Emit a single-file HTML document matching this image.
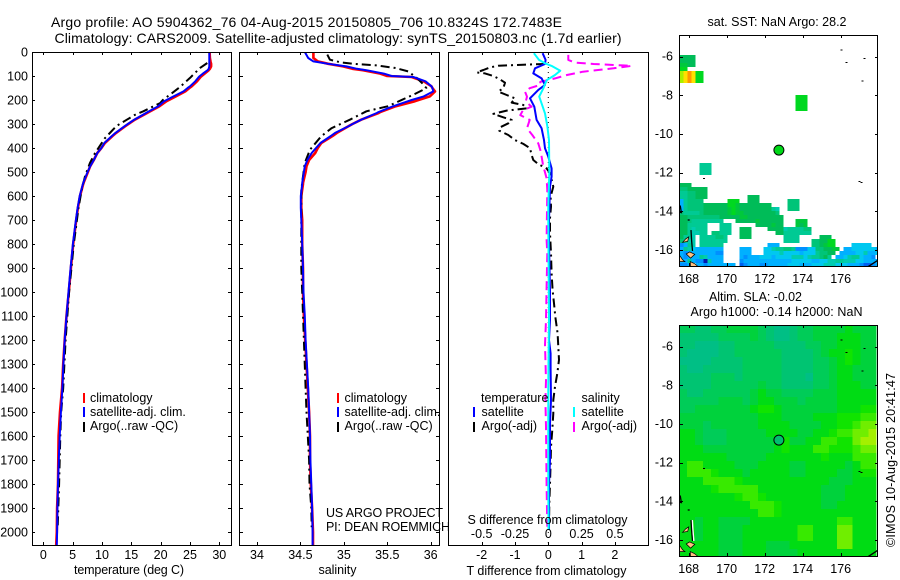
<!DOCTYPE html>
<html>
<head>
<meta charset="utf-8">
<title>Argo profile 5904362_76</title>
<style>
html,body{margin:0;padding:0;background:#fff;}
svg{display:block;font-family:"Liberation Sans",sans-serif;font-size:12.5px;fill:#000;}
.crisp{shape-rendering:crispEdges;}
</style>
</head>
<body>
<svg id="chart" width="900" height="580" viewBox="0 0 900 580" xmlns="http://www.w3.org/2000/svg">
<defs>
<clipPath id="clip-temp"><rect x="32" y="52" width="200" height="493"/></clipPath>
<clipPath id="clip-sal"><rect x="239" y="52" width="201" height="493"/></clipPath>
<clipPath id="clip-diff"><rect x="448" y="52" width="201" height="493"/></clipPath>
<clipPath id="clip-sst"><rect x="679" y="35" width="199" height="232"/></clipPath>
<clipPath id="clip-sla"><rect x="679" y="325" width="199" height="232"/></clipPath>
</defs>
<rect width="900" height="580" fill="#fff"/>
<text x="51" y="27" font-size="14" textLength="511" lengthAdjust="spacing">Argo profile: AO 5904362_76 04-Aug-2015 20150805_706 10.8324S 172.7483E</text>
<text x="54.5" y="43" font-size="14" textLength="567" lengthAdjust="spacing">Climatology: CARS2009. Satellite-adjusted climatology: synTS_20150803.nc (1.7d earlier)</text>

<g id="sst-cells" clip-path="url(#clip-sst)" class="crisp"></g>
<g id="sla-cells" clip-path="url(#clip-sla)" class="crisp"></g>
<g id="coast-sst" clip-path="url(#clip-sst)"></g>
<g id="coast-sla" clip-path="url(#clip-sla)"></g>

<g id="lines-temp" clip-path="url(#clip-temp)"></g>
<g id="lines-sal" clip-path="url(#clip-sal)"></g>
<g id="lines-diff" clip-path="url(#clip-diff)"></g>
<g id="axes"></g>

<g fill="none" stroke="#000" stroke-width="1" class="crisp">
<rect x="32.5" y="52.5" width="199" height="493"/>
<rect x="239.5" y="52.5" width="200" height="493"/>
<rect x="448.5" y="52.5" width="200" height="493"/>
<rect x="679.5" y="35.5" width="198" height="231"/>
<rect x="679.5" y="325.5" width="198" height="231"/>
</g>

<g>
<rect x="83" y="393" width="2" height="10" fill="#f00"/>
<rect x="83" y="407" width="2" height="10" fill="#00f"/>
<rect x="83" y="422" width="2" height="10" fill="#000"/>
<text x="90" y="402">climatology</text>
<text x="90" y="416">satellite-adj. clim.</text>
<text x="90" y="430">Argo(..raw -QC)</text>
</g>
<g>
<rect x="337" y="393" width="2" height="10" fill="#f00"/>
<rect x="337" y="407" width="2" height="10" fill="#00f"/>
<rect x="337" y="422" width="2" height="10" fill="#000"/>
<text x="344.5" y="402">climatology</text>
<text x="344.5" y="416">satellite-adj. clim.</text>
<text x="344.5" y="430">Argo(..raw -QC)</text>
</g>
<g>
<text x="481" y="402">temperature</text>
<rect x="473" y="407" width="2" height="10" fill="#00f"/>
<rect x="473" y="422" width="2" height="10" fill="#000"/>
<text x="481.5" y="416">satellite</text>
<text x="481.5" y="430">Argo(-adj)</text>
<text x="581.5" y="402">salinity</text>
<rect x="573" y="407" width="2" height="10" fill="#0ff"/>
<rect x="573" y="422" width="2" height="10" fill="#f0f"/>
<text x="581.5" y="416">satellite</text>
<text x="581.5" y="430">Argo(-adj)</text>
</g>

<text x="326" y="517" textLength="117" lengthAdjust="spacing">US ARGO PROJECT</text>
<text x="326" y="531" textLength="124" lengthAdjust="spacing">PI: DEAN ROEMMICH</text>
<text x="74" y="574" textLength="110" lengthAdjust="spacing">temperature (deg C)</text>
<text x="318.5" y="574" textLength="38" lengthAdjust="spacing">salinity</text>
<text x="467.5" y="524" textLength="160" lengthAdjust="spacing">S difference from climatology</text>
<text x="466.5" y="575" textLength="160" lengthAdjust="spacing">T difference from climatology</text>
<text x="707.5" y="26" textLength="139" lengthAdjust="spacing">sat. SST: NaN Argo: 28.2</text>
<text x="709" y="301" textLength="93" lengthAdjust="spacing">Altim. SLA: -0.02</text>
<text x="690.5" y="316" textLength="172" lengthAdjust="spacing">Argo h1000: -0.14 h2000: NaN</text>
<text transform="translate(895,547) rotate(-90)" textLength="174" lengthAdjust="spacing">©IMOS 10-Aug-2015 20:41:47</text>
</svg>

<script>
// ---- Profile data ----
const depthClim = [0,25,39,49,60,70,76,90,100,104,122,143,150,164,185,200,205,226,250,254,282,300,310,337,350,379,400,421,450,476,500,546,550,600,650,700,800,900,1000,1100,1200,1300,1400,1500,1600,1700,1800,1900,2000,2054];
const tempClim = [28.35,28.4,28.5,28.6,28.6,28.4,28.2,27.5,27.0,26.8,26.2,25.3,24.9,24.2,22.6,21.4,21.0,19.8,18.0,17.7,15.6,14.5,13.9,12.4,11.8,10.5,9.9,9.2,8.6,8.0,7.6,6.85,6.8,6.25,5.9,5.6,5.1,4.7,4.35,3.95,3.65,3.4,3.2,2.85,2.6,2.55,2.5,2.35,2.3,2.2];
const tempSat  = [28.3,28.3,28.3,28.3,28.3,28.2,28.0,27.2,26.7,26.5,25.9,25.0,24.6,23.9,22.2,21.0,20.6,19.6,17.8,17.5,15.5,14.4,13.8,12.3,11.7,10.4,9.9,9.2,8.6,8.0,7.55,6.8,6.75,6.2,5.85,5.55,5.05,4.65,4.3,3.95,3.65,3.42,3.25,3,2.8,2.65,2.5,2.4,2.35,2.3];
const salClim  = [34.65,34.65,34.7,34.82,34.99,35.1,35.22,35.42,35.5,35.78,35.92,36.01,36.02,36.05,35.99,35.86,35.82,35.6,35.42,35.4,35.2,35.1,35.05,34.92,34.87,34.74,34.7,34.67,34.6,34.57,34.56,34.53,34.53,34.51,34.51,34.52,34.52,34.53,34.53,34.54,34.555,34.57,34.585,34.6,34.61,34.61,34.62,34.635,34.645,34.645];
const salSat   = [34.55,34.59,34.65,34.82,35.03,35.15,35.26,35.46,35.55,35.8,35.94,36.01,36.02,36.03,35.92,35.78,35.74,35.57,35.4,35.38,35.2,35.1,35.05,34.9,34.85,34.73,34.68,34.63,34.58,34.55,34.54,34.52,34.52,34.505,34.505,34.51,34.52,34.53,34.535,34.55,34.56,34.575,34.59,34.6,34.61,34.615,34.625,34.635,34.64,34.64];

const depthArgoT = [46,67,108,146,172,199,213,247,262,308,359,422,463,518,574,650,800,1000,1200,1400,1500,1600,1700,1800,1900,1980];
const tempArgo   = [27.95,26.7,25,23.3,21.9,20.4,19.9,17.05,15.6,12.5,10.5,8.8,7.95,7.1,6.55,6.0,5.2,4.4,3.8,3.4,3.05,2.9,2.8,2.7,2.55,2.45];
const depthArgoS = [11,32,43,49,56,67,81,108,129,150,160,178,199,226,247,282,317,351,407,462,518,574,700,900,1000,1200,1400,1500,1600,1700,1800,1900,1980];
const salArgo    = [34.81,34.84,34.96,35.11,35.38,35.6,35.74,35.84,35.9,35.95,35.9,35.8,35.67,35.51,35.26,35.07,34.86,34.74,34.61,34.55,34.53,34.51,34.51,34.51,34.52,34.54,34.56,34.57,34.585,34.6,34.605,34.625,34.63];

const depthDiffTSat = [5,33,50,68,89,110,137,158,193,228,283,318,367,401,436,485,519,561,700,800,1000,1117,1200,1256,1321,1450,1550,1700,1800,1990];
const diffTSat      = [-0.17,-0.08,-0.1,-0.4,-0.45,-0.2,-0.1,-0.3,-0.55,-0.42,-0.35,-0.2,-0.13,-0.1,0,0.1,0.1,0.05,0.02,0.02,0.05,0.05,0.02,0.07,0.07,0.08,0.05,0.05,0.02,0.02];
const depthDiffSSat = [5,33,47,58,78,96,117,151,186,214,256,311,367,505,644,700,1117,1256,1394,1533,1672,1811,1990];
const diffSSat      = [-0.108,-0.07,-0.025,0.025,0.09,0.05,-0.012,-0.037,-0.068,-0.05,-0.025,-0.007,0.005,0.0075,0,0,0.005,0.002,0,0,0,0,0.002];
const depthDiffTArgo = [50,53,57,64,75,85,89,100,114,128,151,165,179,193,211,221,235,244,258,272,283,297,314,328,346,367,383,401,429,450,467,485,505,561,603,644,692,756,839,922,992,1047,1103,1172,1228,1283,1339,1394,1450,1506,1575,1644,1714,1797,1881,1978];
const diffTArgo      = [-0.1,-0.75,-1.5,-1.75,-1.95,-2.15,-1.9,-1.65,-1.45,-1.3,-1.35,-1.5,-1.25,-1,-1.1,-0.75,-0.65,-1.25,-1.65,-1.35,-1.1,-1.2,-1.45,-1.47,-1.2,-1,-0.75,-0.55,-0.5,-0.45,-0.3,-0.05,0.05,0.15,0.07,0.08,0.05,0.05,0.08,0.1,0.13,0.17,0.21,0.28,0.3,0.32,0.27,0.2,0.15,0.15,0.12,0.08,0.07,0.05,0.03,0.02];
const depthDiffSArgo = [12,33,44,50,56,58,68,82,96,110,124,137,151,165,186,207,228,242,263,283,318,346,381,408,436,471,526,575,783,839,978,1117,1221,1367,1450,1561,1811,1978];
const diffSArgo      = [0.15,0.15,0.2,0.34,0.56,0.625,0.49,0.26,0.14,0.05,-0.06,-0.06,-0.14,-0.175,-0.16,-0.17,-0.125,-0.19,-0.21,-0.14,-0.16,-0.12,-0.075,-0.06,-0.05,-0.04,-0.0125,-0.0075,-0.0125,-0.0075,-0.0125,-0.0175,-0.025,-0.0175,-0.022,-0.0175,-0.0125,-0.0075];
const zeroLineDepths = [0,2054];
const zeroLineValues = [0,0];

// ---- Tick labels ----
const depthTicks = [0,100,200,300,400,500,600,700,800,900,1000,1100,1200,1300,1400,1500,1600,1700,1800,1900,2000];
const tempTicks = [0,5,10,15,20,25,30];
const salTicks = [34,34.5,35,35.5,36];
const diffTTicks = [-2,-1,0,1,2];
const diffSTicks = [-0.5,-0.25,0,0.25,0.5];
const lonTicks = [168,170,172,174,176];
const latTicks = [-6,-8,-10,-12,-14,-16];

// ---- Argo float position ----
const floatLon = [172.7483];
const floatLat = [-10.8324];

// ---- SST heatmap rows: one character per cell, '.' = no data ----
const sstRows = [
"iiii","iiii","jjii","kk","yYOYkk","yYOYkk","yYOYkk","","","",
".............................kkk",".............................kkk",".............................kkk",".............................kkk",
"","","","","","","","","","","","","",
".....ggg",".....ggg",".....ggg","","",
"iii",
"hhiiiii",
"gghhiii",
"gghhiii..........iii",
"dghhhh......kkk..iii.......hhh",
"dghhhhiiiiiikkjiiiiiiii....hhh",
"dghhhhiiiiiijkjiiiiiiiigf..hhh",
"hgggghiiiiiijkjjiiiiiiiih",
"iihhhhhhhhiiiiijjiiiiiiiii",
"iihgggggggg...iiiiijiiiiii...jjj",
"iiggggg...ggg......iiiijii...jij",
"iigfggg...ggg..iii....iiiifgggghh",
"iigffgg.hhggg..iii......iiggggggg",
"iggf.gggghhg...iii........gggg.....iii",
"hgff.ggggggg..............gggg...hhiikk",
"cdgf.gggggg...........ddd........hhijkk....eeeee",
"dgfeddddddd....ddd...eefgghhgccceehhiijj.ddeeeeeedd",
"dcdddddddcc....ddd...eeeefeeeedeeeghhii.ddddeefdde",
"dcdddgfdddd....dcdddeeedeeeefffefgghig.ddefggeddc",
"ddgdccnfddd....cddddddddddddeeeeeddeeffggfffeeddddcd",
"ccd.ddcddddddd.bcdddccdddddeeedddeeefffeeedddcbbcd"
];
const sstLevels = ["n","b","c","d","e","f","g","h","i","j","k","y","Y","O"];
const sstColors = ["#0018b0","#0060f0","#0090ff","#00b0ff","#00c8f0","#00ccb0","#00ca94","#00c478","#00bc58","#00c83c","#00d820","#a8f000","#ffe000","#ff9800"];

// ---- SLA heatmap rows ----
const slaRows = [
"ccbbccddddcbaabccddddeddd",
"bbbbbccccdcbaabccdddeeedd",
"bbaaabbcccccbbbbccddeeedd",
"baaaabbccccccbbbbcdeefedd",
"aaaabbbbcccccbbbbccdefedd",
"baabbbbbcccccbbbbccdeeddd",
"bbbbcccbcccccbbbaccdeeddd",
"bbbbccccccdccbbbbccdeeedd",
"cbbccccccdeddccccdddeeeee",
"cccccdddcdeedddcddddeeeee",
"ccdddddddeffedddddddeeeff",
"ddddddddddeeeddddeeefffgg",
"dddcddddddeeeeddddeeffghh",
"eedcccdddddeeeeddeefgghhi",
"eedcccddddddefddeeggffhii",
"eeedddddddddefeeeggfffghh",
"eeeeeedddddeeeeeeefeeeggg",
"eggeeeedddeeeeddeeeeedegg",
"egggfeeedeeeeeddeeeeddeff",
"eeeggggfeeeeeeeeeeedddeee",
"eeeefgggggeeeeeeeedddeeee",
"eeeeeeefggfeeeeeeedddeeee",
"eeeeeeeeegggfeeeeeddeeeee",
"eeeeeeeeeeggfeeeeeeeeeeee",
"eedeeddddeeeeeeeeeeeggeee",
"eedeedddeeeeeeeggeeehheee",
"eedeedddeeeeeeeggeeehheee",
"eeeeedddeeedddeeeeeehheee",
"eeeeedddeeeddddeeeeeeeeee"
];
const slaLevels = ["a","b","c","d","e","f","g","h","i"];
const slaColors = ["#00bf85","#00c472","#00cc58","#00d23c","#00dc14","#10e400","#38ea00","#70ee00","#a4f000"];

// ---- Coast and islands (lon, lat) ----
const landPolys = [
[[167.68,-15.6],[167.85,-15.42],[168,-15.32],[167.95,-15.55]],
[[167.87,-16.2],[168.05,-16.1],[168.32,-16.22],[168.1,-16.42]],
[[167.5,-16.25],[167.68,-16.5],[167.8,-16.6],[167.5,-16.6]],
[[168.08,-16.6],[168.3,-16.7],[168.5,-16.86],[168.1,-16.86]]
];
const coastLines = [
[[168.12,-14.97],[168.15,-15.5],[168.2,-16.05]],
[[167.55,-13.7],[167.62,-14.1]],
[[177.45,-16.86],[177.93,-16.55]],
[[167.95,-14.45],[168.05,-14.45]]
];
const islandLon = [176.05,176.3,177.25,177.15,177.0,177.1,168.8,167.55];
const islandLat = [-5.65,-6.3,-6.1,-7.25,-12.45,-12.5,-12.3,-14.05];

// ---- Axis functions ----
function yDepth(d){return 52+d*0.24;}
function xTemp(v){return 43.3+v*5.867;}
function xSal(v){return 257+(v-34)*86.83;}
function xDiffT(v){return 548.3+v*33.3;}
function xDiffS(v){return 548.3+v*133.2;}
function xLon(v){return 688.7+(v-168)*19;}
function yLatTop(v){return 56.7+(-6-v)*19.33;}
function yLatLow(v){return 346.7+(-6-v)*19.33;}

const NS='http://www.w3.org/2000/svg';
function mk(tag,name,parent,attrs){
  const el=document.createElementNS(NS,tag);
  
  
  for(const k in attrs){el.setAttribute(k,attrs[k]);}
  parent.appendChild(el);
  return el;
}
function profile(parent,name,depths,vals,xf,color,width,dash){
  const pts=depths.map((d,i)=>xf(vals[i]).toFixed(1)+','+yDepth(d).toFixed(1)).join(' ');
  const attrs={points:pts,fill:'none',stroke:color,'stroke-width':width,'stroke-linejoin':'round'};
  if(dash){attrs['stroke-dasharray']=dash;}
  mk('polyline',name,parent,attrs);
}
const gT=document.getElementById('lines-temp');
const gS=document.getElementById('lines-sal');
const gD=document.getElementById('lines-diff');
const dashArgo='9 4 2 4';
profile(gT,'temperature-climatology-line',depthClim,tempClim,xTemp,'#f00',2.6);
profile(gT,'temperature-argo-line',depthArgoT,tempArgo,xTemp,'#000',2,dashArgo);
profile(gT,'temperature-satellite-line',depthClim,tempSat,xTemp,'#00f',2);
profile(gS,'salinity-climatology-line',depthClim,salClim,xSal,'#f00',2.6);
profile(gS,'salinity-argo-line',depthArgoS,salArgo,xSal,'#000',2,dashArgo);
profile(gS,'salinity-satellite-line',depthClim,salSat,xSal,'#00f',2);
profile(gD,'zero-line',zeroLineDepths,zeroLineValues,xDiffT,'#000',1,'1 4');
profile(gD,'t-argo-difference-line',depthDiffTArgo,diffTArgo,xDiffT,'#000',2,dashArgo);
profile(gD,'s-argo-difference-line',depthDiffSArgo,diffSArgo,xDiffS,'#f0f',2,'9 5');
profile(gD,'t-satellite-difference-line',depthDiffTSat,diffTSat,xDiffT,'#00f',2);
profile(gD,'s-satellite-difference-line',depthDiffSSat,diffSSat,xDiffS,'#0ff',2);

// ---- Axes ----
const gA=document.getElementById('axes');
function tick(x1,y1,x2,y2){
  mk('line','tick-mark',gA,{x1:x1,y1:y1,x2:x2,y2:y2,stroke:'#000','stroke-width':1,'shape-rendering':'crispEdges'});
}
function label(name,x,y,txt,anchor){
  const t=mk('text',name,gA,{x:x,y:y,'text-anchor':anchor});
  t.textContent=txt;
}
depthTicks.forEach(d=>{
  const y=Math.round(yDepth(d))+0.5;
  label('y-tick-label',28,y+4,String(d),'end');
  tick(32,y,35,y);tick(228,y,231,y);
  tick(240,y,243,y);tick(436,y,439,y);
});
tempTicks.forEach(v=>{
  const x=Math.round(xTemp(v))+0.5;
  label('x-tick-label-temperature',xTemp(v),559,String(v),'middle');
  tick(x,52,x,55);tick(x,542,x,545);
});
salTicks.forEach(v=>{
  const x=Math.round(xSal(v))+0.5;
  label('x-tick-label-salinity',xSal(v),559,String(v),'middle');
  tick(x,52,x,55);tick(x,542,x,545);
});
diffTTicks.forEach(v=>{
  const x=Math.round(xDiffT(v))+0.5;
  label('x-tick-label-t-difference',xDiffT(v),559,String(v),'middle');
  tick(x,52,x,55);tick(x,542,x,545);
});
diffSTicks.forEach(v=>{
  label('x-tick-label-s-difference',xDiffS(v),538,String(v),'middle');
});
function mapAxes(yLat,top,bottom,lonY){
  lonTicks.forEach(v=>{
    const x=Math.round(xLon(v))+0.5;
    label('longitude-tick-label',xLon(v),lonY,String(v),'middle');
    tick(x,top,x,top+3);tick(x,bottom-3,x,bottom);
  });
  latTicks.forEach(v=>{
    const y=Math.round(yLat(v))+0.5;
    label('latitude-tick-label',673,yLat(v)+4,String(v),'end');
    tick(680,y,683,y);tick(875,y,878,y);
  });
}
mapAxes(yLatTop,35,266,283);
mapAxes(yLatLow,325,556,573);

// ---- Heatmaps ----
const lonStart=167.505, sstDLon=0.2105, slaDLon=0.4147;
const sstLatStart=-5.91, sstDLat=0.2069;
const slaLatStart=-4.88, slaDLat=0.4138;
const gSst=document.getElementById('sst-cells');
sstRows.forEach((row,r)=>{
  for(let c=0;c<row.length;c++){
    const k=sstLevels.indexOf(row[c]);
    if(k<0){continue;}
    const x0=xLon(lonStart+c*sstDLon), x1=xLon(lonStart+(c+1)*sstDLon);
    const y0=yLatTop(sstLatStart-r*sstDLat), y1=yLatTop(sstLatStart-(r+1)*sstDLat);
    mk('rect','sst-cell',gSst,{x:x0.toFixed(1),y:y0.toFixed(1),width:(x1-x0).toFixed(1),height:(y1-y0).toFixed(1),fill:sstColors[k]});
  }
});
const gSla=document.getElementById('sla-cells');
slaRows.forEach((row,r)=>{
  for(let c=0;c<row.length;c++){
    const k=slaLevels.indexOf(row[c]);
    if(k<0){continue;}
    const x0=xLon(lonStart+c*slaDLon), x1=xLon(lonStart+(c+1)*slaDLon);
    const y0=yLatLow(slaLatStart-r*slaDLat), y1=yLatLow(slaLatStart-(r+1)*slaDLat);
    mk('rect','sla-cell',gSla,{x:x0.toFixed(1),y:y0.toFixed(1),width:(x1-x0).toFixed(1),height:(y1-y0).toFixed(1),fill:slaColors[k]});
  }
});

// ---- Coast ----
function pts(list,yLat){return list.map(p=>xLon(p[0]).toFixed(1)+','+yLat(p[1]).toFixed(1)).join(' ');}
function drawCoast(parent,yLat,white){
  if(white){
    coastLines.slice(0,1).forEach(l=>{
      const shifted=l.map(p=>[p[0]+0.07,p[1]]);
      mk('polyline','reef-gap',parent,{points:pts(shifted,yLat),fill:'none',stroke:'#fff','stroke-width':1.5});
    });
  }
  landPolys.forEach(l=>{
    mk('polygon','island',parent,{points:pts(l,yLat),fill:'#ffc080',stroke:'#000','stroke-width':0.7});
  });
  coastLines.forEach(l=>{
    mk('polyline','coastline',parent,{points:pts(l,yLat),fill:'none',stroke:'#000','stroke-width':1.3});
  });
  islandLon.forEach((lon,i)=>{
    mk('rect','small-island',parent,{x:(xLon(lon)-1).toFixed(1),y:(yLat(islandLat[i])-0.5).toFixed(1),width:2,height:1,fill:'#000','shape-rendering':'crispEdges'});
  });
}
drawCoast(document.getElementById('coast-sst'),yLatTop,false);
drawCoast(document.getElementById('coast-sla'),yLatLow,true);

// ---- Float markers ----
mk('circle','argo-float-marker-sst',document.getElementById('coast-sst'),{cx:xLon(floatLon[0]).toFixed(1),cy:yLatTop(floatLat[0]).toFixed(1),r:5,fill:'#00d818',stroke:'#000','stroke-width':1});
mk('circle','argo-float-marker-sla',document.getElementById('coast-sla'),{cx:xLon(floatLon[0]).toFixed(1),cy:yLatLow(floatLat[0]).toFixed(1),r:5,fill:'#00bf70',stroke:'#000','stroke-width':1});
</script>
</body>
</html>
